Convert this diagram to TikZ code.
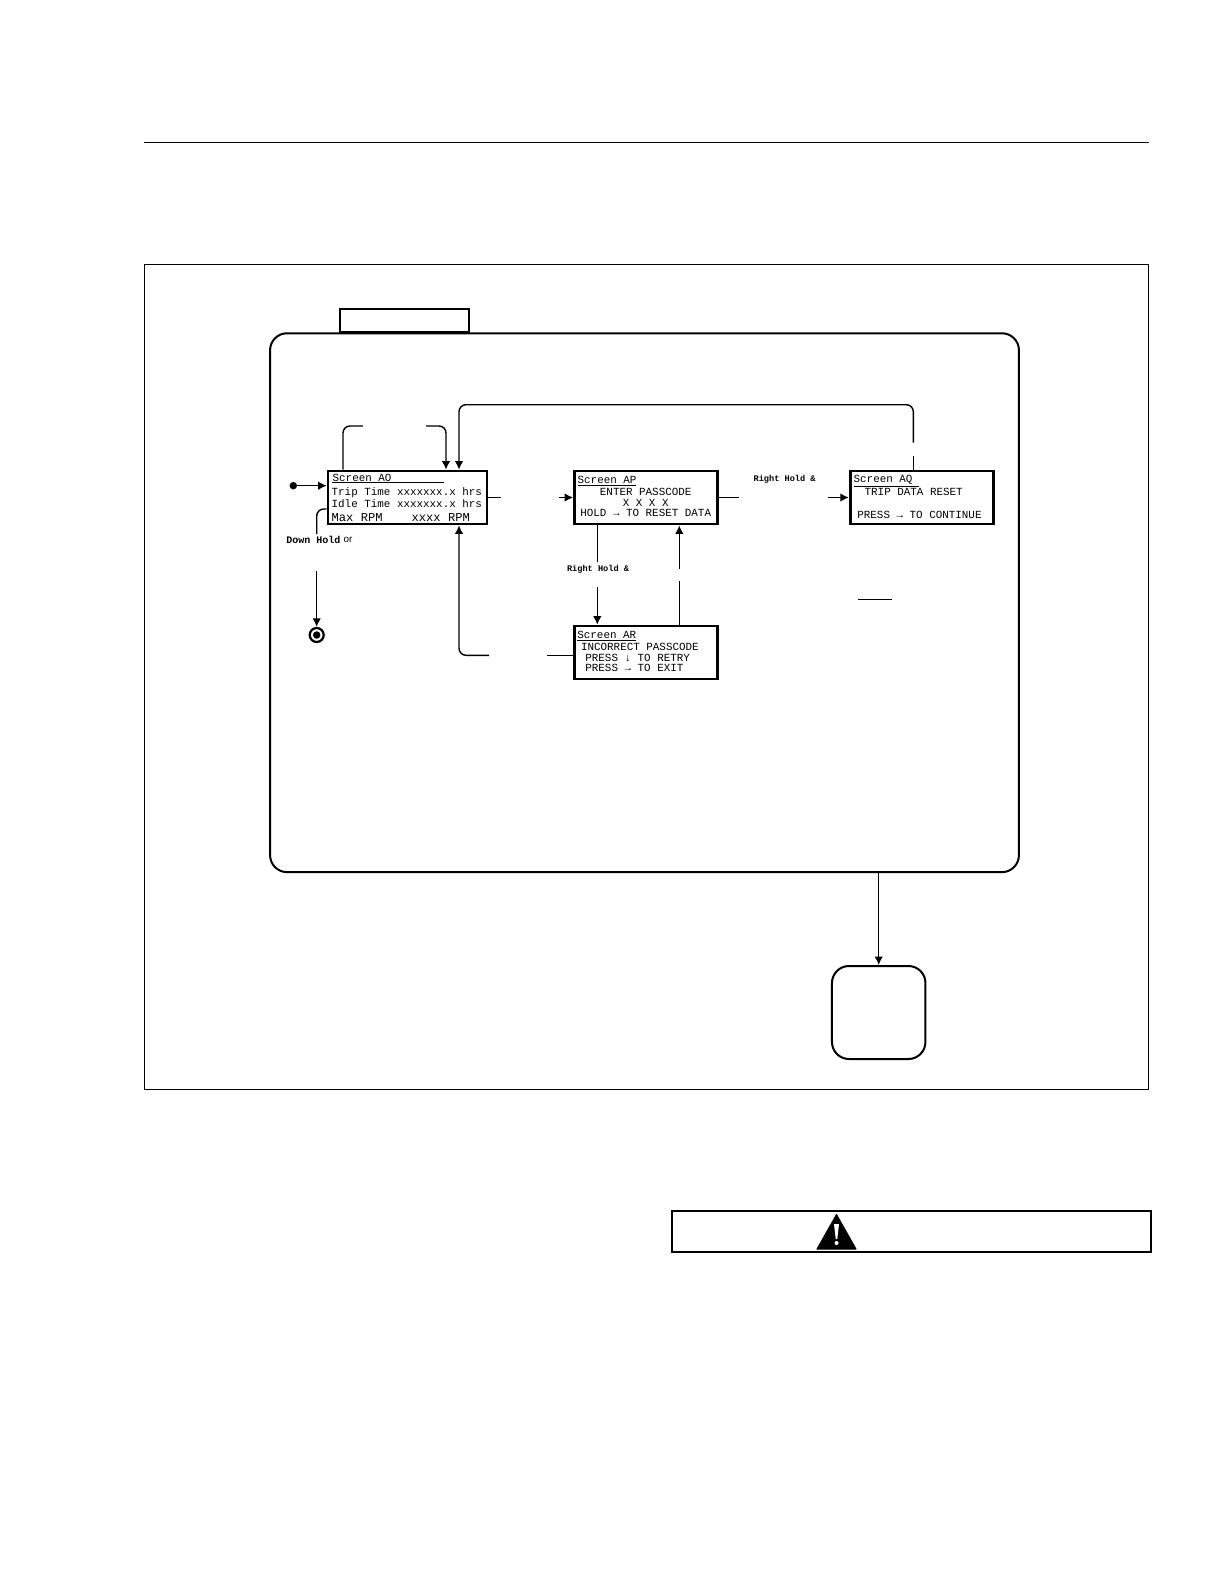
\documentclass[tikz,border=0pt]{standalone}
\usepackage{fontspec}
\newfontfamily\scrfont{Liberation Mono}
\newfontfamily\lblsans{Liberation Sans}
\usetikzlibrary{arrows.meta, positioning}

\begin{document}
\begin{tikzpicture}[
    x=0.02cm, y=-0.02cm,
    screenbox/.style={draw, rectangle, line width=0.055cm, minimum height=1.06cm},
    roundbox/.style={draw, rectangle, line width=0.04cm, rounded corners=0.34cm},
    thinbox/.style={draw, rectangle, line width=0.022cm},
    scrtxt/.style={font=\scrfont\fontsize{6.2}{7}\selectfont, inner sep=0pt},
    scrleft/.style={scrtxt, anchor=west},
    holdlbl/.style={font=\scrfont\bfseries\fontsize{4.9}{6}\selectfont, inner sep=0pt, anchor=west},
    downlbl/.style={font=\scrfont\bfseries\fontsize{5.7}{6}\selectfont, inner sep=0pt, anchor=west},
    orlbl/.style={font=\lblsans\fontsize{5.6}{6}\selectfont, inner sep=0pt, anchor=west},
    conn/.style={line width=0.028cm, rounded corners=0.14cm},
    arr/.style={conn, -{Latex[length=0.17cm, width=0.17cm]}},
    rule/.style={line width=0.02cm}
]

\useasboundingbox (0,0) rectangle (1221,1581);

% Page furniture
\coordinate (rulel) at (144,142.8);
\coordinate (ruler) at (1149,142.8);
\draw[rule] (rulel) -- (ruler);
\node[thinbox, minimum width=20.1cm, minimum height=16.5cm] (panel) at (646.5,676.7) {};

% Outer state and its tab
\node[roundbox, minimum width=14.98cm, minimum height=10.78cm] (outer) at (644.5,602.7) {};
\node[draw, rectangle, line width=0.035cm, minimum width=2.58cm, minimum height=0.46cm, anchor=south] (tab) at (404.5,333) {};
\node[roundbox, minimum width=1.87cm, minimum height=1.86cm] (exit) at (878.7,1012.5) {};

% Screens
\node[screenbox, minimum width=3.18cm] (ao) at (407.6,497.5) {};
\node[screenbox, minimum width=2.86cm] (ap) at (646,497.5) {};
\node[screenbox, minimum width=2.86cm] (ar) at (646,652.5) {};
\node[screenbox, minimum width=2.86cm] (aq) at (921.7,497.5) {};

% Screen AO text
\node[scrleft] (aot) at (332.3,477.7) {Screen AO};
\node[scrleft] (ao1) at (331.3,492.5) {Trip Time xxxxxxx.x hrs};
\node[scrleft] (ao2) at (331.3,503.5) {Idle Time xxxxxxx.x hrs};
\node[scrleft, font=\scrfont\fontsize{6.9}{7}\selectfont] (ao3) at (331.3,517.2) {Max RPM~~~~xxxx RPM};
\coordinate (aoul) at (332,482.6);
\coordinate (aour) at (444,482.6);
\draw[rule] (aoul) -- (aour);

% Screen AP text
\node[scrleft] (apt) at (577.3,481.3) {\underline{Screen AP}};
\node[scrtxt] (ap1) at (645.7,492.3) {ENTER PASSCODE};
\node[scrtxt] (ap2) at (645.7,503) {X X X X};
\node[scrtxt] (ap3) at (645.7,513.3) {HOLD → TO RESET DATA};

% Screen AR text
\node[scrleft] (art) at (577,636.3) {\underline{Screen AR}};
\node[scrleft] (ar1) at (580.7,647) {INCORRECT PASSCODE};
\node[scrleft] (ar2) at (585,657.7) {PRESS ↓ TO RETRY};
\node[scrleft] (ar3) at (585,668) {PRESS → TO EXIT};

% Screen AQ text
\node[scrleft] (aqt) at (853.3,481.3) {\underline{Screen AQ~}};
\node[scrleft] (aq1) at (864.3,492.3) {TRIP DATA RESET};
\node[scrleft] (aq3) at (857,515) {PRESS → TO CONTINUE};

% Start and end markers
\node[circle, fill, inner sep=0pt, minimum size=0.15cm] (start) at (293.3,485.7) {};
\node[circle, draw, line width=0.045cm, minimum size=0.28cm, inner sep=0pt] (stop) at (316.7,635) {};
\node[circle, fill, inner sep=0pt, minimum size=0.15cm] (stopdot) at (316.7,635) {};

% Labels
\node[downlbl] (downhold) at (286,540) {Down Hold};
\node[orlbl, right=0.05cm of downhold] (orword) {or};
\node[holdlbl] (hold1) at (566.7,569.3) {Right Hold \&};
\node[holdlbl] (hold2) at (753.3,479.3) {Right Hold \&};

% Free ends of the broken connectors
\coordinate (loopa) at (343,426);
\coordinate (loopb) at (363,426);
\coordinate (loopc) at (426,426);
\coordinate (loopd) at (446,426);
\coordinate (backa) at (913.3,456);
\coordinate (backb) at (913.3,442.7);
\coordinate (backc) at (459,404.7);
\coordinate (opa) at (500.7,497.5);
\coordinate (opb) at (559,497.5);
\coordinate (pqa) at (739,497.5);
\coordinate (pqb) at (828,497.5);
\coordinate (pra) at (597.3,561.7);
\coordinate (prb) at (597.3,587.3);
\coordinate (rpa) at (679.3,581);
\coordinate (rpb) at (679.3,569);
\coordinate (roa) at (547.3,655.3);
\coordinate (rob) at (489,655.3);
\coordinate (roc) at (459,655.3);
\coordinate (sta) at (316.7,534);
\coordinate (stb) at (316.7,571.3);
\coordinate (stc) at (316.7,509);
\coordinate (ula) at (858,599.3);
\coordinate (ulb) at (892,599.3);
\coordinate (exa) at (878.7,872);

% Connectors
\draw[arr] (start) -- (start -| ao.west);
\draw[conn] (ao.north -| loopa) |- (loopb);
\draw[arr] (loopc) -| (ao.north -| loopd);
\draw[conn] (aq.north -| backa) -- (backa);
\draw[arr] (backb) |- (backc) -- (ao.north -| backc);
\draw[conn] (ao.east |- opa) -- (opa);
\draw[arr] (opb) -- (ap.west |- opb);
\draw[conn] (ap.east |- pqa) -- (pqa);
\draw[arr] (pqb) -- (aq.west |- pqb);
\draw[conn] (ap.south -| pra) -- (pra);
\draw[arr] (prb) -- (ar.north -| prb);
\draw[conn] (ar.north -| rpa) -- (rpa);
\draw[arr] (rpb) -- (ap.south -| rpb);
\draw[conn] (ar.west |- roa) -- (roa);
\draw[arr] (rob) -- (roc) -- (ao.south -| roc);
\draw[conn] (ao.west |- stc) -- (stc) -- (sta);
\draw[arr] (stb) -- (stop.north);
\draw[rule] (ula) -- (ulb);
\draw[arr] (outer.south -| exa) -- (exit.north -| exa);

% Warning bar
\node[draw, rectangle, line width=0.04cm, minimum width=9.58cm, minimum height=0.83cm] (warn) at (911.2,1231.3) {};
\fill[line join=round, draw, line width=0.02cm] (836.5,1214.5) -- (856,1249) -- (817,1249) -- cycle;
\fill[white] (834,1224) -- (839,1224) -- (837.3,1239) -- (835.7,1239) -- cycle;
\fill[white] (836.5,1243) circle (2);

\end{tikzpicture}
\end{document}
